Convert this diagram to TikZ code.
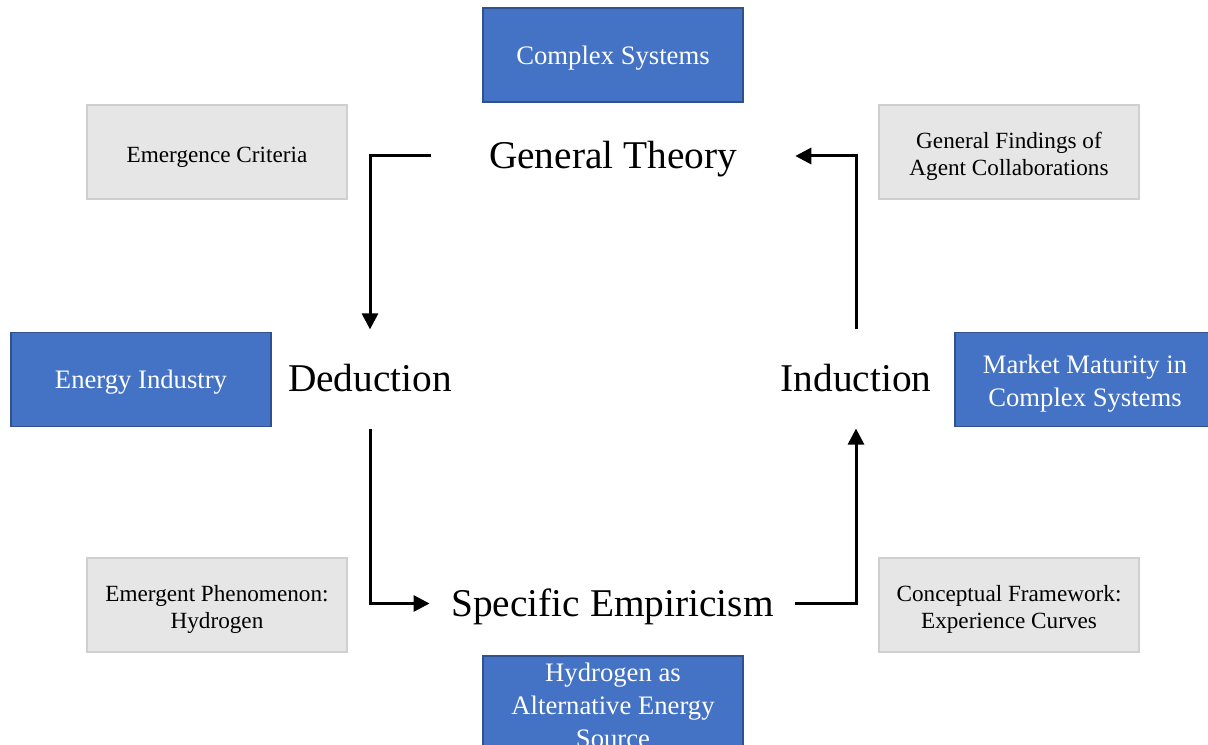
\documentclass[tikz,border=0pt]{standalone}
\usepackage{fontspec}
\setmainfont{Liberation Serif}
\usetikzlibrary{arrows.meta}
\definecolor{boxblue}{HTML}{4472C4}
\definecolor{boxblueline}{HTML}{2F528F}
\definecolor{boxgray}{HTML}{E7E6E6}
\definecolor{boxgrayline}{HTML}{D0CECE}
\newcommand{\lift}[1]{\rule{0pt}{#1}}

\begin{document}
\begin{tikzpicture}[x=0.75pt, y=-0.75pt,
    bluebox/.style={rectangle, fill=boxblue, draw=boxblueline, line width=1pt,
        minimum width=195pt, minimum height=70.5pt, inner ysep=0pt, align=center,
        text=white, font=\fontsize{20}{24.5}\selectfont},
    graybox/.style={rectangle, fill=boxgray, draw=boxgrayline, line width=1pt,
        minimum width=195pt, minimum height=70.5pt, inner ysep=0pt, align=center,
        font=\fontsize{17.4}{20.3}\selectfont},
    stage/.style={minimum height=74pt, inner sep=0pt, text height=25.5pt, text depth=6pt,
        font=\fontsize{29.5}{35}\selectfont},
    flow/.style={line width=2.25pt, -{Triangle[length=12pt,width=12pt]}}]
    \clip (0, 0) rectangle (1208, 745);

    % Stages of the cycle
    \node[stage, minimum width=273pt] (theory) at (613, 156) {General Theory};
    \node[stage] (deduction) at (370, 379) {Deduction};
    \node[stage] (induction) at (856, 379) {Induction};
    \node[stage, minimum width=274pt] (empiricism) at (612.5, 603.5) {Specific Empiricism};

    % Blue boxes
    \node[bluebox] (systems) at (613, 55) {\lift{18.2pt}Complex Systems};
    \node[bluebox] (industry) at (141, 379.5) {\lift{18.2pt}Energy Industry};
    \node[bluebox] (maturity) at (1085, 379.5) {\lift{20.5pt}Market Maturity in\\Complex Systems};
    \node[bluebox] (hydrogen) at (613, 703) {\lift{17.5pt}Hydrogen as\\Alternative Energy\\Source};

    % Grey boxes
    \node[graybox] (criteria) at (217, 152) {\lift{19.4pt}Emergence Criteria};
    \node[graybox] (findings) at (1009, 152) {\lift{19.4pt}General Findings of\\Agent Collaborations};
    \node[graybox] (phenomenon) at (217, 605) {\lift{18.5pt}Emergent Phenomenon:\\Hydrogen};
    \node[graybox] (framework) at (1009, 605) {\lift{18.5pt}Conceptual Framework:\\Experience Curves};

    % Arrows
    \draw[flow] (theory.west) -| (deduction.north);
    \draw[flow] (deduction.south) |- (empiricism.west);
    \draw[flow] (empiricism.east) -| (induction.south);
    \draw[flow] (induction.north) |- (theory.east);
\end{tikzpicture}
\end{document}
